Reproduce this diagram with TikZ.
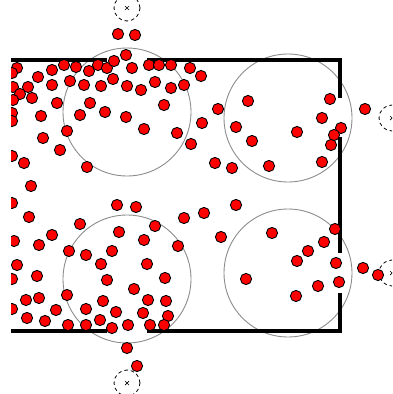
\documentclass[tikz,border=0pt]{standalone}
\usepackage{xcolor}
\usetikzlibrary{calc}
\definecolor{cred}{HTML}{FF0000}
\definecolor{cgray}{HTML}{8C8C8C}
\definecolor{cbk}{HTML}{000000}

\begin{document}
\begin{tikzpicture}[x=1pt, y=-1pt]
    \useasboundingbox (0,0) rectangle (392,394);
    \begin{scope}[
        region/.style={draw=cgray, line width=0.9pt},
        ghost/.style={draw=cbk, line width=0.8pt, dash pattern=on 3.5pt off 3pt},
        crossline/.style={draw=cbk, line width=0.7pt},
        wall/.style={draw=cbk, line width=3.2pt},
        disc/.style={draw=cbk, fill=cred, line width=0.9pt}
    ]
        \clip (11,0) rectangle (392,394);

        % ================= sampling regions =================
        \foreach \cx/\cy in {127/112, 288/118, 127/279, 288/273}
            \draw[region] (\cx,\cy) circle (64pt);

        % ================= image points outside the box =================
        \foreach \cx/\cy in {127/8, 392/118, 127/383, 392/273} {
            \draw[ghost] (\cx,\cy) circle (13pt);
            \draw[crossline] ($(\cx,\cy)+(-2,-2)$) -- ($(\cx,\cy)+(2,2)$);
            \draw[crossline] ($(\cx,\cy)+(-2,2)$) -- ($(\cx,\cy)+(2,-2)$);
        }

        % ================= walls with openings =================
        \draw[wall] (11,60) -- (107,60);
        \draw[wall] (147,60) -- (340,60) -- (340,98);
        \draw[wall] (340,137) -- (340,253);
        \draw[wall] (340,293) -- (340,331) -- (147,331);
        \draw[wall] (107,331) -- (11,331);

        % ================= particles =================
        % escaped through the top
        \foreach \px/\py in {118/34, 135/35}
            \draw[disc] (\px,\py) circle (5.6pt);
        % upper half
        \foreach \px/\py in {17/68, 12/73, 38/77, 52/70, 64/65, 76/67, 89/71, 98/65, 107/68, 114/61,
                             126/55, 132/68, 149/65, 159/65, 171/65, 190/68, 201/76,
                             13/87, 28/87, 20/94, 32/98, 13/100, 52/85, 70/81, 84/85, 101/86,
                             113/79, 127/86, 141/90, 155/82, 171/88, 184/85,
                             12/113, 12/121, 41/116, 57/103, 90/103, 80/115, 105/112, 126/117,
                             164/105, 144/129, 177/133, 191/144, 202/123, 43/138, 67/131,
                             60/150, 12/156, 24/163, 87/167, 31/186,
                             248/101, 218/109, 236/127, 252/141, 297/132, 330/99, 322/118,
                             341/128, 334/135, 331/145, 322/162, 215/163, 232/168, 269/166}
            \draw[disc] (\px,\py) circle (5.6pt);
        % lower half
        \foreach \px/\py in {12/203, 117/205, 136/207, 29/217, 80/224, 184/218, 155/226, 119/232,
                             52/235, 14/241, 39/245, 144/240, 178/246, 69/251, 86/255, 112/251,
                             101/264, 147/264, 17/265, 12/279, 37/276, 107/280, 165/278, 134/289,
                             67/295, 26/300, 39/298, 103/301, 148/300, 166/301, 12/309, 56/310,
                             86/309, 116/312, 143/313, 168/316, 27/318, 45/321, 100/320, 68/325,
                             86/325, 112/328, 128/325, 150/325, 164/325,
                             204/213, 236/205, 221/237, 272/233, 335/229, 324/242, 308/251,
                             297/261, 336/263, 246/279, 318/286, 339/282, 296/296}
            \draw[disc] (\px,\py) circle (5.6pt);
        % escaped through the bottom and the side
        \foreach \px/\py in {127/348, 137/366, 365/109, 363/268, 378/275}
            \draw[disc] (\px,\py) circle (5.6pt);
    \end{scope}
\end{tikzpicture}
\end{document}
